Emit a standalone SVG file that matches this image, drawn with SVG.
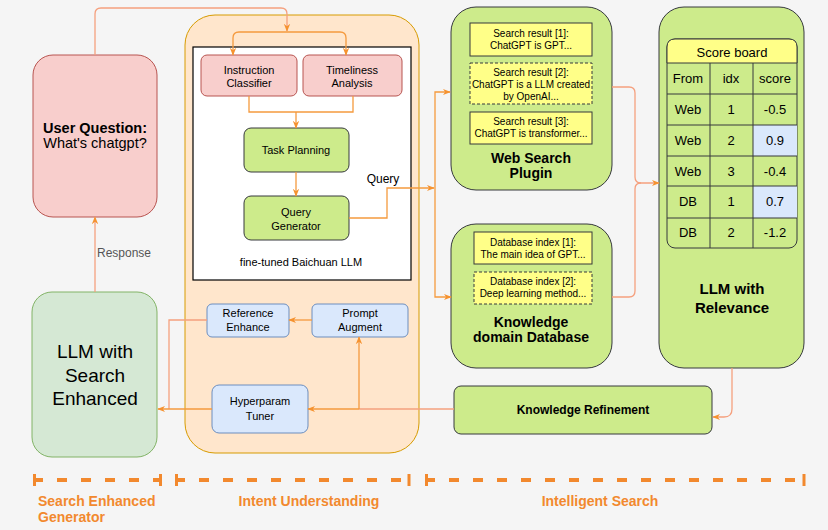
<svg xmlns="http://www.w3.org/2000/svg" width="828" height="530" viewBox="0 0 828 530">
<defs>
<style>
text{font-family:"Liberation Sans",Arial,sans-serif;fill:#000;text-anchor:middle}
.b{font-weight:bold}
.c{fill:none;stroke:#f59a3e;stroke-width:1.3}
.l{fill:none;stroke:#f5a07e;stroke-width:1.3}
.pink{fill:#f8cecc;stroke:#b85450;stroke-width:1}
.grn{fill:#cdeb8b;stroke:#36393d;stroke-width:1}
.blue{fill:#dae8fc;stroke:#6c8ebf;stroke-width:1}
.yel{fill:#ffff88;stroke:#36393d;stroke-width:1}
.dash{stroke-dasharray:3 2}
.s10{font-size:10px}
.s11{font-size:11px}
.s12{font-size:12px}
.s13{font-size:13px}
.dim{fill:none;stroke:#f2892e;stroke-width:4;stroke-dasharray:10 14}
.tick{fill:none;stroke:#f2892e;stroke-width:3}
.lab{fill:#f2892e;font-weight:bold;font-size:14px}
</style>
<marker id="a" viewBox="0 0 10 10" refX="9" refY="5" markerWidth="8" markerHeight="8" markerUnits="userSpaceOnUse" orient="auto">
<path d="M0,1 L10,5 L0,9 L3,5 z" fill="#f5922f"/>
</marker>
</defs>
<rect x="0" y="0" width="828" height="530" fill="#f5f5f5"/>

<g id="intent-container">
<rect x="185" y="15" width="234" height="438" rx="30" fill="#ffe6cc" stroke="#d79b00" stroke-width="1"/>
<rect x="193" y="47" width="218" height="233" fill="#ffffff" stroke="#000" stroke-width="1.2"/>
<text class="s11" x="301" y="266">fine-tuned Baichuan LLM</text>
</g>

<g id="user-question">
<rect class="pink" x="33" y="55" width="124" height="162" rx="20"/>
<text class="b" font-size="14.5" x="95" y="133">User Question:</text>
<text font-size="14.5" x="95" y="148">What's chatgpt?</text>
</g>

<g id="instruction-classifier">
<rect class="pink" x="201" y="55" width="96" height="41" rx="6"/>
<text class="s11" x="249" y="74">Instruction</text>
<text class="s11" x="249" y="87">Classifier</text>
</g>
<g id="timeliness-analysis">
<rect class="pink" x="303" y="55" width="99" height="41" rx="6"/>
<text class="s11" x="352" y="74">Timeliness</text>
<text class="s11" x="352" y="87">Analysis</text>
</g>
<g id="task-planning">
<rect class="grn" x="244" y="128" width="105" height="44" rx="7"/>
<text class="s11" x="296" y="154">Task Planning</text>
</g>
<g id="query-generator">
<rect class="grn" x="244" y="196" width="105" height="44" rx="7"/>
<text class="s11" x="296" y="216">Query</text>
<text class="s11" x="296" y="230">Generator</text>
</g>

<g id="reference-enhance">
<rect class="blue" x="207" y="304" width="82" height="33" rx="5"/>
<text class="s11" x="248" y="317">Reference</text>
<text class="s11" x="248" y="331">Enhance</text>
</g>
<g id="prompt-augment">
<rect class="blue" x="312" y="304" width="96" height="33" rx="5"/>
<text class="s11" x="360" y="317">Prompt</text>
<text class="s11" x="360" y="331">Augment</text>
</g>
<g id="hyperparam-tuner">
<rect class="blue" x="212" y="385" width="96" height="48" rx="7"/>
<text class="s11" x="260" y="405">Hyperparam</text>
<text class="s11" x="260" y="420">Tuner</text>
</g>

<g id="llm-search-enhanced">
<rect x="32" y="292" width="125" height="165" rx="20" fill="#d5e8d4" stroke="#82b366" stroke-width="1"/>
<text font-size="19" x="95" y="358">LLM with</text>
<text font-size="19" x="95" y="382">Search</text>
<text font-size="19" x="95" y="405">Enhanced</text>
</g>

<g id="web-search-plugin">
<rect class="grn" x="451" y="7" width="161" height="183" rx="25"/>
<rect class="yel" x="470" y="23" width="122" height="33"/>
<text class="s10" x="531" y="37">Search result [1]:</text>
<text class="s10" x="531" y="49">ChatGPT is GPT...</text>
<rect class="yel dash" x="470" y="63" width="122" height="41"/>
<text class="s10" x="531" y="76">Search result [2]:</text>
<text class="s10" x="531" y="88">ChatGPT is a LLM created</text>
<text class="s10" x="531" y="100">by OpenAI...</text>
<rect class="yel" x="470" y="112" width="122" height="32"/>
<text class="s10" x="531" y="125">Search result [3]:</text>
<text class="s10" x="531" y="137">ChatGPT is transformer...</text>
<text class="b" font-size="14" x="531" y="163">Web Search</text>
<text class="b" font-size="14" x="531" y="178">Plugin</text>
</g>

<g id="knowledge-database">
<rect class="grn" x="451" y="224" width="161" height="144" rx="25"/>
<rect class="yel" x="474" y="232" width="118" height="32"/>
<text class="s10" x="533" y="246">Database index [1]:</text>
<text class="s10" x="533" y="258">The main idea of GPT...</text>
<rect class="yel dash" x="474" y="272" width="118" height="32"/>
<text class="s10" x="533" y="285">Database index [2]:</text>
<text class="s10" x="533" y="297">Deep learning method...</text>
<text class="b" font-size="14" x="531" y="327">Knowledge</text>
<text class="b" font-size="14" x="531" y="342">domain Database</text>
</g>

<g id="llm-relevance">
<rect class="grn" x="659" y="7" width="145" height="361" rx="25"/>
<rect x="667" y="39" width="130" height="209" rx="8" fill="#cdeb8b" stroke="#36393d"/>
<path d="M667,63 L667,47 Q667,39 675,39 L789,39 Q797,39 797,47 L797,63 Z" fill="#ffff88" stroke="#36393d"/>
<rect x="753" y="125" width="44" height="31" fill="#dae8fc"/>
<rect x="753" y="186" width="44" height="32" fill="#dae8fc"/>
<g fill="none" stroke="#36393d" stroke-width="1">
<path d="M667,94 H797 M667,125 H797 M667,156 H797 M667,186 H797 M667,218 H797"/>
<path d="M710,63 V248 M753,63 V248"/>
</g>
<text class="s13" x="732" y="57">Score board</text>
<text class="s13" x="688" y="83">From</text>
<text class="s13" x="731" y="83">idx</text>
<text class="s13" x="775" y="83">score</text>
<text class="s13" x="688" y="114">Web</text>
<text class="s13" x="731" y="114">1</text>
<text class="s13" x="775" y="114">-0.5</text>
<text class="s13" x="688" y="145">Web</text>
<text class="s13" x="731" y="145">2</text>
<text class="s13" x="775" y="145">0.9</text>
<text class="s13" x="688" y="176">Web</text>
<text class="s13" x="731" y="176">3</text>
<text class="s13" x="775" y="176">-0.4</text>
<text class="s13" x="688" y="206">DB</text>
<text class="s13" x="731" y="206">1</text>
<text class="s13" x="775" y="206">0.7</text>
<text class="s13" x="688" y="237">DB</text>
<text class="s13" x="731" y="237">2</text>
<text class="s13" x="775" y="237">-1.2</text>
<text class="b" font-size="15" x="732" y="294">LLM with</text>
<text class="b" font-size="15" x="732" y="313">Relevance</text>
</g>

<g id="knowledge-refinement">
<rect class="grn" x="454" y="386" width="258" height="48" rx="7"/>
<text class="b s12" x="583" y="414">Knowledge Refinement</text>
</g>

<g id="connectors">
<path class="l" d="M95,55 V14 Q95,8 101,8 H281 Q287,8 287,14 V31" marker-end="url(#a)"/>
<path class="c" d="M287,32 H239 Q233,32 233,38 V55" marker-end="url(#a)"/>
<path class="c" d="M287,32 H340 Q346,32 346,38 V55" marker-end="url(#a)"/>
<path class="c" d="M249,96 V112 H353 V96"/>
<path class="c" d="M296,112 V128" marker-end="url(#a)"/>
<path class="c" d="M296,172 V196" marker-end="url(#a)"/>
<path class="c" d="M349,218 H387 V188 H434" marker-end="url(#a)"/>
<path class="c" d="M435,188 V92 H450" marker-end="url(#a)"/>
<path class="c" d="M435,188 V297 H451" marker-end="url(#a)"/>
<text class="s12" x="383" y="183">Query</text>
<path class="l" d="M612,87 H629 Q635,87 635,93 V177 Q635,183 641,183 H659" marker-end="url(#a)"/>
<path class="l" d="M612,297 H629 Q635,297 635,291 V189 Q635,183 641,183"/>
<path class="l" d="M732,368 V409 Q732,417 724,417 H713" marker-end="url(#a)"/>
<path class="l" d="M454,409 H359"/>
<path class="c" d="M359,409 H308" marker-end="url(#a)"/>
<path class="c" d="M359,409 V337" marker-end="url(#a)"/>
<path class="c" d="M312,320 H289" marker-end="url(#a)"/>
<path class="l" d="M207,320 H169 V409"/>
<path class="c" d="M212,409 H158" marker-end="url(#a)"/>
<path class="l" d="M95,292 V217" marker-end="url(#a)"/>
<text class="s12" x="124" y="257" style="fill:#555">Response</text>
</g>

<g id="sections">
<path class="dim" d="M33,480 H162"/>
<path class="tick" d="M34.5,474 V486 M160.5,474 V486"/>
<path class="dim" d="M175,480 H410"/>
<path class="tick" d="M176.5,474 V486 M409,474 V486"/>
<path class="dim" d="M425,480 H805"/>
<path class="tick" d="M426.5,474 V486 M804,474 V486"/>
<text class="lab" x="38" y="506" style="text-anchor:start">Search Enhanced</text>
<text class="lab" x="38" y="522" style="text-anchor:start">Generator</text>
<text class="lab" x="309" y="506">Intent Understanding</text>
<text class="lab" x="600" y="506">Intelligent Search</text>
</g>
</svg>
